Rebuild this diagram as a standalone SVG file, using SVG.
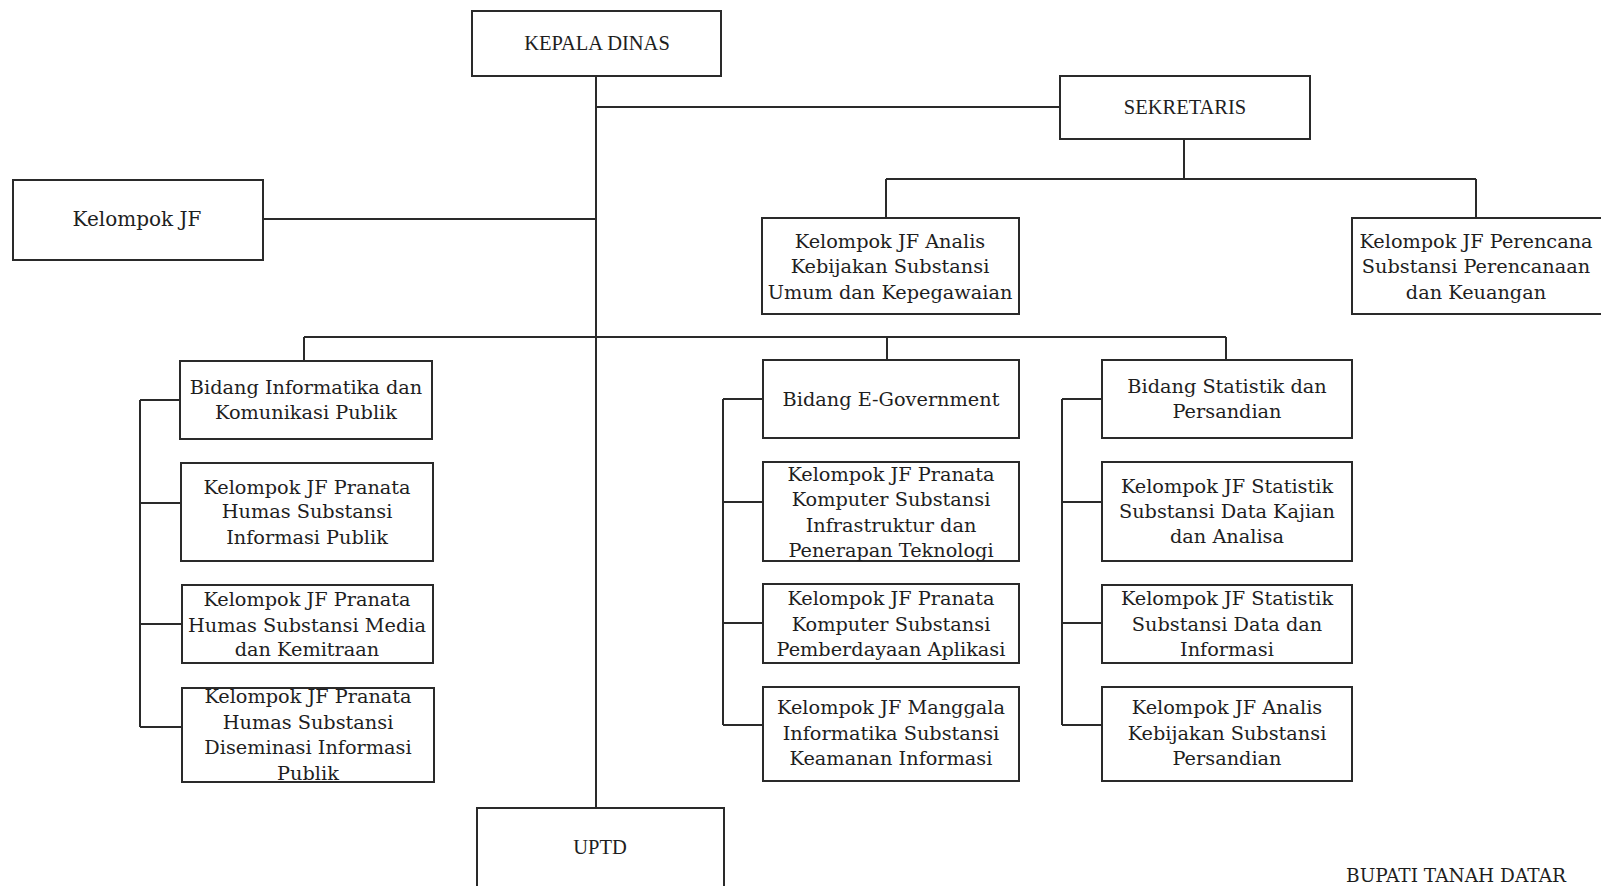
<svg xmlns="http://www.w3.org/2000/svg" width="1601" height="886" viewBox="0 0 1601 886">
<style>
.box{fill:#fff;stroke:#2a2a2a;stroke-width:2}
.ln{fill:none;stroke:#2a2a2a;stroke-width:2}
.t{font-family:"DejaVu Serif","Liberation Serif",serif;font-size:19.3px;fill:#1e1e1e;text-anchor:middle}
.c{font-family:"Liberation Serif","DejaVu Serif",serif;font-size:20.5px;fill:#1e1e1e;text-anchor:middle}
</style>
<rect width="1601" height="886" fill="#fff"/>
<g id="connectors" class="ln">
<path d="M596 76V808"/>
<path d="M596 107H1060"/>
<path d="M263 219H596"/>
<path d="M1184 139V179M886 179H1476M886 179V218M1476 179V218"/>
<path d="M304 337H1226M304 337V361M887 337V360M1226 337V360"/>
<path d="M140 400V727M140 400H180M140 503H181M140 624H182M140 727H182"/>
<path d="M723 399V725M723 399H763M723 502H763M723 623H763M723 725H763"/>
<path d="M1062 399V725M1062 399H1102M1062 502H1102M1062 623H1102M1062 725H1102"/>
</g>
<g id="kepala-dinas"><rect class="box" x="472" y="11" width="249" height="65"/><text class="c" x="597" y="50">KEPALA DINAS</text></g>
<g id="sekretaris"><rect class="box" x="1060" y="76" width="250" height="63"/><text class="c" x="1185" y="114">SEKRETARIS</text></g>
<g id="kelompok-jf"><rect class="box" x="13" y="180" width="250" height="80"/><text class="t" x="137" y="226" style="font-size:20px">Kelompok JF</text></g>
<g id="jf-analis-umum"><rect class="box" x="762" y="218" width="257" height="96"/>
<text class="t" x="890" y="248">Kelompok JF Analis</text><text class="t" x="890" y="273">Kebijakan Substansi</text><text class="t" x="890" y="299">Umum dan Kepegawaian</text></g>
<g id="jf-perencana"><rect class="box" x="1352" y="218" width="252" height="96"/>
<text class="t" x="1476" y="248">Kelompok JF Perencana</text><text class="t" x="1476" y="273">Substansi Perencanaan</text><text class="t" x="1476" y="299">dan Keuangan</text></g>
<g id="bidang-ikp"><rect class="box" x="180" y="361" width="252" height="78"/>
<text class="t" x="306" y="394">Bidang Informatika dan</text><text class="t" x="306" y="419">Komunikasi Publik</text></g>
<g id="jf-humas-info"><rect class="box" x="181" y="463" width="252" height="98"/>
<text class="t" x="307" y="494">Kelompok JF Pranata</text><text class="t" x="307" y="518">Humas Substansi</text><text class="t" x="307" y="544">Informasi Publik</text></g>
<g id="jf-humas-media"><rect class="box" x="182" y="585" width="251" height="78"/>
<text class="t" x="307" y="606">Kelompok JF Pranata</text><text class="t" x="307" y="632">Humas Substansi Media</text><text class="t" x="307" y="656">dan Kemitraan</text></g>
<g id="jf-humas-diseminasi"><rect class="box" x="182" y="688" width="252" height="94"/>
<text class="t" x="308" y="703">Kelompok JF Pranata</text><text class="t" x="308" y="729">Humas Substansi</text><text class="t" x="308" y="754">Diseminasi Informasi</text><text class="t" x="308" y="780">Publik</text></g>
<g id="bidang-egov"><rect class="box" x="763" y="360" width="256" height="78"/>
<text class="t" x="891" y="406">Bidang E-Government</text></g>
<g id="jf-komputer-infra"><rect class="box" x="763" y="462" width="256" height="99"/>
<text class="t" x="891" y="481">Kelompok JF Pranata</text><text class="t" x="891" y="506">Komputer Substansi</text><text class="t" x="891" y="532">Infrastruktur dan</text><text class="t" x="891" y="557">Penerapan Teknologi</text></g>
<g id="jf-komputer-aplikasi"><rect class="box" x="763" y="584" width="256" height="79"/>
<text class="t" x="891" y="605">Kelompok JF Pranata</text><text class="t" x="891" y="631">Komputer Substansi</text><text class="t" x="891" y="656">Pemberdayaan Aplikasi</text></g>
<g id="jf-manggala"><rect class="box" x="763" y="687" width="256" height="94"/>
<text class="t" x="891" y="714">Kelompok JF Manggala</text><text class="t" x="891" y="740">Informatika Substansi</text><text class="t" x="891" y="765">Keamanan Informasi</text></g>
<g id="bidang-statistik"><rect class="box" x="1102" y="360" width="250" height="78"/>
<text class="t" x="1227" y="393">Bidang Statistik dan</text><text class="t" x="1227" y="418">Persandian</text></g>
<g id="jf-statistik-kajian"><rect class="box" x="1102" y="462" width="250" height="99"/>
<text class="t" x="1227" y="493">Kelompok JF Statistik</text><text class="t" x="1227" y="518">Substansi Data Kajian</text><text class="t" x="1227" y="543">dan Analisa</text></g>
<g id="jf-statistik-info"><rect class="box" x="1102" y="585" width="250" height="78"/>
<text class="t" x="1227" y="605">Kelompok JF Statistik</text><text class="t" x="1227" y="631">Substansi Data dan</text><text class="t" x="1227" y="656">Informasi</text></g>
<g id="jf-analis-persandian"><rect class="box" x="1102" y="687" width="250" height="94"/>
<text class="t" x="1227" y="714">Kelompok JF Analis</text><text class="t" x="1227" y="740">Kebijakan Substansi</text><text class="t" x="1227" y="765">Persandian</text></g>
<g id="uptd"><rect class="box" x="477" y="808" width="247" height="80"/><text class="c" x="600" y="854">UPTD</text></g>
<text x="1456" y="882" style="font-family:'DejaVu Serif','Liberation Serif',serif;font-size:18.5px;fill:#1e1e1e;text-anchor:middle">BUPATI TANAH DATAR</text>
</svg>
